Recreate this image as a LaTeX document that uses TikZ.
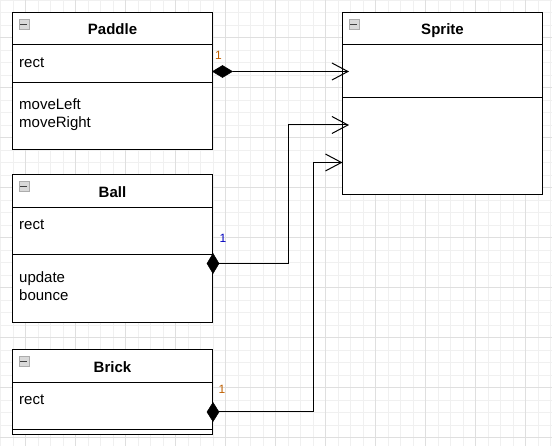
\documentclass[tikz,border=0pt]{standalone}
\usepackage{fontspec}
\setmainfont{Liberation Sans}
\usetikzlibrary{arrows.meta,shapes.geometric}

\begin{document}
\begin{tikzpicture}[x=1pt, y=-1pt,
    minorgrid/.style={gray!12, line width=0.8pt},
    majorgrid/.style={gray!25, line width=0.8pt},
    classbox/.style={draw, line width=1pt, fill=white, minimum width=200pt, inner sep=0pt, outer sep=0pt, anchor=north west},
    sep/.style={line width=1pt},
    icon/.style={draw=gray!65, fill=gray!30, minimum width=10pt, minimum height=10pt, inner sep=0pt, anchor=north west,
        path picture={\draw[black!75, line width=1.2pt] ([xshift=1.5pt]path picture bounding box.west) -- ([xshift=-1.5pt]path picture bounding box.east);}},
    title/.style={font=\bfseries\fontsize{15}{18}\selectfont, anchor=base, inner sep=0pt},
    member/.style={font=\fontsize{15}{18}\selectfont, anchor=base west, inner sep=0pt},
    agg/.style={diamond, draw, fill=black, line width=0.5pt, inner sep=0pt, outer sep=0pt},
    assoc/.style={line width=1pt, -{Straight Barb[length=16pt, width=17pt]}},
    mult/.style={font=\fontsize{12}{14}\selectfont, inner sep=0pt}]

        \useasboundingbox (0,0) rectangle (552,446);

        % Background grid
        \fill[white] (0,0) rectangle (552,446);
        \foreach \i in {0,...,44} {
            \draw[minorgrid] ({0.5+12.5*\i},0) -- ({0.5+12.5*\i},446);
        }
        \foreach \j in {0,...,35} {
            \draw[minorgrid] (0,{12.5*\j}) -- (552,{12.5*\j});
        }
        \foreach \i in {0,...,10} {
            \draw[majorgrid] ({25.5+50*\i},0) -- ({25.5+50*\i},446);
        }
        \foreach \j in {0,...,8} {
            \draw[majorgrid] (0,{37.5+50*\j}) -- (552,{37.5+50*\j});
        }

        % Classes
        \node[classbox, minimum height=137.5pt] (paddle) at (12.5,12.5) {};
        \node[classbox, minimum height=147.5pt] (ball)   at (12.5,175) {};
        \node[classbox, minimum height=85pt]    (brick)  at (12.5,350) {};
        \node[classbox, minimum height=182.5pt] (sprite) at (342.5,12.5) {};

        % Compartment lines and collapse icons
        \foreach \c/\a/\b in {paddle/32.5/70, ball/32.5/80, brick/32.5/80, sprite/32.5/85} {
            \draw[sep] (\c.north west) ++(0,\a) -- ++(200,0)
                       (\c.north west) ++(0,\b) -- ++(200,0);
            \node[icon] (\c Icon) at ([shift={(6,6.5)}]\c.north west) {};
        }

        % Class names
        \node[title] (paddleName) at (112.5,34.7)  {Paddle};
        \node[title] (ballName)   at (112.5,197.3) {Ball};
        \node[title] (brickName)  at (112.5,372.3) {Brick};
        \node[title] (spriteName) at (442.5,34.7)  {Sprite};

        % Attributes and operations
        \node[member] (paddleRect)  at (19,68)    {rect};
        \node[member] (paddleLeft)  at (19,110)   {moveLeft};
        \node[member] (paddleRight) at (19,128)   {moveRight};
        \node[member] (ballRect)    at (19,229.3) {rect};
        \node[member] (ballUpdate)  at (19,282.7) {update};
        \node[member] (ballBounce)  at (19,300.3) {bounce};
        \node[member] (brickRect)   at (19,404.3) {rect};

        % Composition diamonds
        \node[agg, minimum width=20pt, minimum height=12pt] (paddleAgg) at (222.5,71.5) {};
        \node[agg, minimum width=12pt, minimum height=20pt] (ballAgg)   at (213,263.5) {};
        \node[agg, minimum width=12pt, minimum height=19pt] (brickAgg)  at (213,412) {};

        % Bends and ends on Sprite
        \coordinate (ballBend)  at (288,125);
        \coordinate (brickBend) at (313,162.5);
        \coordinate (spriteIn1) at (349,71.5);
        \coordinate (spriteIn2) at (349,125);
        \coordinate (spriteIn3) at (342.5,162.5);

        % Associations
        \draw[assoc] (paddleAgg.east) -- (spriteIn1);
        \draw[assoc] (ballAgg.east) -| (ballBend) -- (spriteIn2);
        \draw[assoc] (brickAgg.east) -| (brickBend) -- (spriteIn3);

        % Multiplicities
        \node[mult, text=orange!75!black] (paddleMult) at (218.5,55)  {1};
        \node[mult, text=blue!75!black]   (ballMult)   at (223,238.7) {1};
        \node[mult, text=orange!75!black] (brickMult)  at (222,389)   {1};
    \end{tikzpicture}
\end{document}
